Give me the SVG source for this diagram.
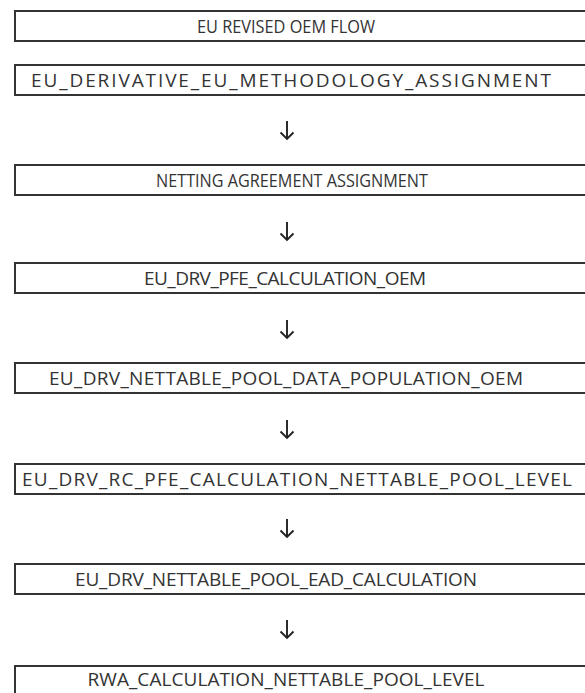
<svg xmlns="http://www.w3.org/2000/svg" width="585" height="693" viewBox="0 0 585 693">
<style>
.box{fill:#fff;stroke:#333;stroke-width:2}
.lbl{font-family:"Open Sans","Noto Sans","Liberation Sans",sans-serif;font-size:19px;fill:#333;text-anchor:middle}
.arr{fill:none;stroke:#222;stroke-width:1.9}
</style>
<rect width="585" height="693" fill="#fff"/>
<g id="n1"><rect class="box" x="15" y="11" width="600" height="30"/><text class="lbl" x="286" y="33" textLength="178" lengthAdjust="spacingAndGlyphs">EU REVISED OEM FLOW</text></g>
<g id="n2"><rect class="box" x="15" y="65" width="600" height="30"/><text class="lbl" x="291" y="87" textLength="520" lengthAdjust="spacing">EU_DERIVATIVE_EU_METHODOLOGY_ASSIGNMENT</text></g>
<g id="n3"><rect class="box" x="15" y="165" width="600" height="30"/><text class="lbl" x="292" y="187" textLength="272" lengthAdjust="spacingAndGlyphs">NETTING AGREEMENT ASSIGNMENT</text></g>
<g id="n4"><rect class="box" x="15" y="263" width="600" height="30"/><text class="lbl" x="285" y="285" textLength="282" lengthAdjust="spacing">EU_DRV_PFE_CALCULATION_OEM</text></g>
<g id="n5"><rect class="box" x="15" y="363" width="600" height="30"/><text class="lbl" x="286" y="385" textLength="474" lengthAdjust="spacing">EU_DRV_NETTABLE_POOL_DATA_POPULATION_OEM</text></g>
<g id="n6"><rect class="box" x="15" y="464" width="600" height="30"/><text class="lbl" x="297" y="486" textLength="550" lengthAdjust="spacing">EU_DRV_RC_PFE_CALCULATION_NETTABLE_POOL_LEVEL</text></g>
<g id="n7"><rect class="box" x="15" y="564" width="600" height="30"/><text class="lbl" x="276" y="586" textLength="402" lengthAdjust="spacing">EU_DRV_NETTABLE_POOL_EAD_CALCULATION</text></g>
<g id="n8"><rect class="box" x="15" y="666" width="600" height="30"/><text class="lbl" x="286" y="686" textLength="397" lengthAdjust="spacing">RWA_CALCULATION_NETTABLE_POOL_LEVEL</text></g>
<g id="connectors">
<path class="arr" d="M287 121V139M280.5 132.5L287 139L293.5 132.5"/>
<path class="arr" d="M287 222V240M280.5 233.5L287 240L293.5 233.5"/>
<path class="arr" d="M287 320V338M280.5 331.5L287 338L293.5 331.5"/>
<path class="arr" d="M287 420V438M280.5 431.5L287 438L293.5 431.5"/>
<path class="arr" d="M287 519V537M280.5 530.5L287 537L293.5 530.5"/>
<path class="arr" d="M287 620V638M280.5 631.5L287 638L293.5 631.5"/>
</g>
</svg>
